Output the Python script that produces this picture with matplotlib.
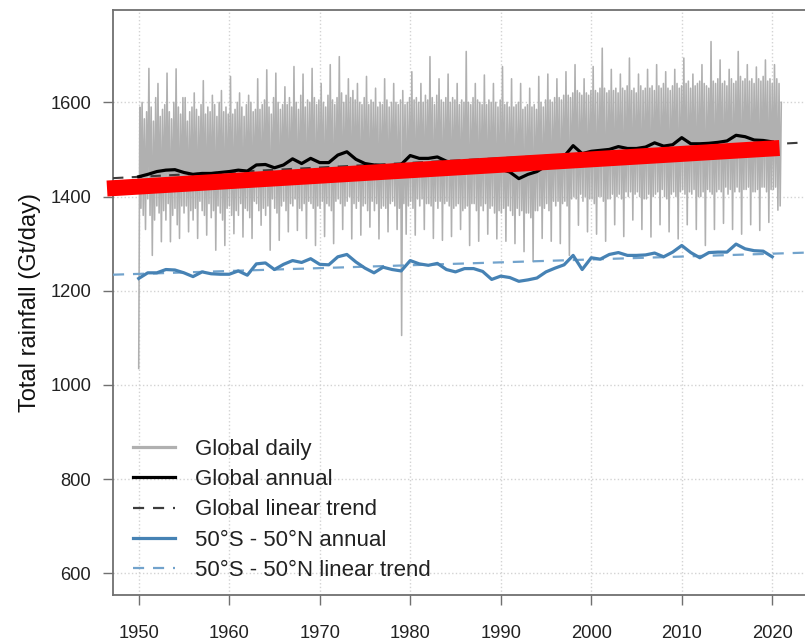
import numpy as np
import matplotlib
matplotlib.use('Agg')
import matplotlib.pyplot as plt
from matplotlib.lines import Line2D

plt.rcParams['font.family'] = ['Liberation Sans', 'DejaVu Sans']

# annual means, 1950-2020 (Gt/day)
years = list(range(1950, 2021))
global_annual = [1442, 1447, 1453, 1456, 1457, 1451, 1447, 1449, 1449, 1451,
                 1453, 1456, 1454, 1467, 1468, 1461, 1467, 1480, 1470, 1481,
                 1472, 1472, 1488, 1495, 1479, 1470, 1467, 1465, 1466, 1468,
                 1487, 1481, 1481, 1484, 1475, 1470, 1468, 1472, 1465, 1462,
                 1458, 1452, 1438, 1447, 1453, 1465, 1478, 1485, 1508, 1491,
                 1496, 1498, 1500, 1506, 1502, 1502, 1505, 1514, 1507, 1510,
                 1525, 1512, 1512, 1513, 1515, 1518, 1530, 1527, 1520, 1519,
                 1516]
band_annual = [1226, 1238, 1238, 1245, 1244, 1238, 1230, 1240, 1236, 1235,
               1235, 1242, 1233, 1257, 1259, 1245, 1256, 1264, 1260, 1268,
               1256, 1255, 1272, 1277, 1261, 1248, 1238, 1250, 1245, 1242,
               1264, 1257, 1254, 1258, 1245, 1240, 1247, 1247, 1241, 1224,
               1231, 1228, 1220, 1223, 1227, 1240, 1248, 1255, 1275, 1245,
               1270, 1267, 1277, 1281, 1275, 1275, 1276, 1280, 1272, 1282,
               1296, 1281, 1270, 1281, 1282, 1282, 1299, 1289, 1285, 1284,
               1272]

# linear trends, values at the two ends of the x range
trend_years = [1947.16, 2023.84]
global_trend = [1439, 1515]
band_trend = [1234, 1281]

# red highlight stroke
highlight_years = [1946.5, 2020.8]
highlight_vals = [1417, 1503]

# daily global rainfall, thinned to 8 readings per year (1950-2020)
daily_rows = [
    [1035, 1590, 1375, 1600, 1360, 1565, 1330, 1580],
    [1395, 1672, 1360, 1590, 1275, 1560, 1350, 1610],
    [1380, 1640, 1365, 1570, 1304, 1585, 1370, 1595],
    [1350, 1662, 1385, 1580, 1304, 1565, 1360, 1600],
    [1375, 1671, 1340, 1590, 1311, 1575, 1380, 1610],
    [1365, 1610, 1380, 1560, 1325, 1580, 1370, 1590],
    [1350, 1620, 1375, 1585, 1311, 1570, 1390, 1595],
    [1370, 1646, 1360, 1575, 1318, 1590, 1385, 1580],
    [1355, 1615, 1370, 1595, 1286, 1570, 1380, 1600],
    [1365, 1625, 1350, 1580, 1296, 1590, 1375, 1575],
    [1380, 1655, 1360, 1575, 1321, 1585, 1370, 1600],
    [1360, 1620, 1385, 1590, 1314, 1570, 1375, 1595],
    [1370, 1615, 1355, 1600, 1311, 1580, 1390, 1585],
    [1385, 1650, 1370, 1585, 1339, 1595, 1375, 1605],
    [1360, 1669, 1380, 1590, 1286, 1575, 1395, 1610],
    [1375, 1662, 1365, 1600, 1307, 1585, 1380, 1595],
    [1390, 1633, 1370, 1595, 1325, 1610, 1385, 1590],
    [1380, 1676, 1395, 1600, 1328, 1585, 1375, 1615],
    [1370, 1660, 1385, 1590, 1311, 1605, 1390, 1600],
    [1385, 1672, 1375, 1610, 1296, 1595, 1380, 1605],
    [1375, 1640, 1390, 1600, 1315, 1590, 1385, 1615],
    [1380, 1680, 1370, 1605, 1300, 1595, 1390, 1610],
    [1395, 1697, 1385, 1620, 1330, 1600, 1380, 1615],
    [1390, 1650, 1400, 1610, 1310, 1625, 1385, 1605],
    [1375, 1640, 1390, 1600, 1318, 1595, 1380, 1610],
    [1385, 1655, 1370, 1595, 1335, 1605, 1390, 1600],
    [1370, 1630, 1385, 1590, 1310, 1600, 1375, 1595],
    [1380, 1650, 1375, 1605, 1325, 1590, 1385, 1600],
    [1390, 1640, 1380, 1600, 1330, 1595, 1375, 1605],
    [1105, 1625, 1385, 1595, 1320, 1600, 1380, 1610],
    [1390, 1665, 1375, 1605, 1318, 1610, 1395, 1600],
    [1380, 1640, 1395, 1600, 1330, 1615, 1385, 1605],
    [1385, 1697, 1380, 1610, 1311, 1595, 1390, 1615],
    [1375, 1650, 1390, 1605, 1307, 1600, 1385, 1610],
    [1390, 1660, 1380, 1600, 1315, 1610, 1375, 1605],
    [1380, 1640, 1385, 1595, 1330, 1605, 1370, 1600],
    [1375, 1708, 1380, 1600, 1296, 1595, 1385, 1610],
    [1385, 1640, 1370, 1605, 1305, 1600, 1380, 1595],
    [1370, 1658, 1385, 1595, 1320, 1605, 1375, 1600],
    [1380, 1640, 1365, 1600, 1310, 1590, 1370, 1605],
    [1365, 1676, 1375, 1595, 1305, 1600, 1380, 1590],
    [1370, 1650, 1360, 1590, 1300, 1595, 1375, 1600],
    [1360, 1640, 1370, 1585, 1283, 1590, 1365, 1595],
    [1365, 1630, 1355, 1590, 1262, 1595, 1370, 1585],
    [1370, 1655, 1380, 1600, 1311, 1590, 1375, 1605],
    [1385, 1660, 1370, 1605, 1305, 1600, 1390, 1610],
    [1380, 1650, 1390, 1610, 1300, 1605, 1385, 1615],
    [1390, 1665, 1380, 1615, 1275, 1610, 1395, 1620],
    [1400, 1680, 1395, 1625, 1339, 1620, 1405, 1615],
    [1390, 1650, 1400, 1620, 1325, 1615, 1395, 1625],
    [1395, 1676, 1385, 1625, 1320, 1620, 1400, 1630],
    [1400, 1715, 1390, 1630, 1305, 1620, 1395, 1625],
    [1395, 1670, 1405, 1625, 1340, 1630, 1400, 1620],
    [1405, 1660, 1395, 1630, 1315, 1625, 1410, 1635],
    [1400, 1694, 1410, 1625, 1350, 1630, 1405, 1620],
    [1410, 1660, 1400, 1635, 1330, 1625, 1395, 1630],
    [1395, 1670, 1405, 1630, 1314, 1635, 1400, 1625],
    [1405, 1680, 1410, 1635, 1340, 1630, 1415, 1640],
    [1400, 1665, 1395, 1630, 1325, 1625, 1405, 1635],
    [1410, 1670, 1400, 1640, 1310, 1630, 1410, 1635],
    [1415, 1694, 1405, 1640, 1340, 1645, 1410, 1630],
    [1405, 1660, 1415, 1635, 1330, 1640, 1400, 1645],
    [1400, 1680, 1410, 1640, 1296, 1635, 1415, 1630],
    [1410, 1729, 1405, 1645, 1330, 1640, 1410, 1650],
    [1415, 1690, 1410, 1640, 1343, 1645, 1420, 1635],
    [1405, 1670, 1415, 1650, 1330, 1640, 1410, 1645],
    [1420, 1708, 1410, 1655, 1320, 1645, 1415, 1650],
    [1415, 1680, 1420, 1645, 1340, 1650, 1410, 1640],
    [1410, 1675, 1415, 1650, 1328, 1645, 1420, 1655],
    [1420, 1690, 1410, 1645, 1345, 1650, 1415, 1640],
    [1415, 1680, 1420, 1650, 1371, 1640, 1380, 1600],
]

y_ticks = [600, 800, 1000, 1200, 1400, 1600]
x_ticks = [1950, 1960, 1970, 1980, 1990, 2000, 2010, 2020]

daily_vals = np.concatenate(daily_rows)
daily_t = np.linspace(1950, 2021, len(daily_vals))

fig = plt.figure(figsize=(8.05, 6.44), dpi=100)
ax = fig.add_axes([113 / 805, 49 / 644, 694 / 805, 585 / 644])

c_daily = '#b0b0b0'
c_trend = '#3c3c3c'
c_band = '#4682b4'
c_band_trend = '#72a3cc'

ax.plot(daily_t, daily_vals, color=c_daily, lw=1.15, zorder=2)
ax.plot(trend_years, global_trend, color=c_trend, lw=1.5, dashes=(5, 4), zorder=3)
ax.plot(trend_years, band_trend, color=c_band_trend, lw=1.6, dashes=(5, 4), zorder=3)
ax.plot(years, global_annual, color='black', lw=2.3, zorder=4)
ax.plot(years, band_annual, color=c_band, lw=2.3, zorder=4)
ax.plot(highlight_years, highlight_vals, color='red', lw=11.5,
        solid_capstyle='butt', clip_on=False, zorder=6)

ax.set_xlim(1947.16, 2023.84)
ax.set_ylim(554, 1796)
ax.set_xticks(x_ticks)
ax.set_yticks(y_ticks)
ax.grid(True, color='#d3d3d3', linestyle=':', lw=1)
ax.set_axisbelow(True)

for s in ax.spines.values():
    s.set_color('#707070')
    s.set_linewidth(1.3)
ax.tick_params(direction='out', length=7.2, width=1, color='#707070',
               labelsize=13.2, labelcolor='#222222')
ax.tick_params(axis='x', pad=14.5)
ax.tick_params(axis='y', pad=8.6)

ax.set_ylabel('Total rainfall (Gt/day)', fontsize=17, color='#111111')
ax.yaxis.set_label_coords(-0.104, 0.5)

handles = [
    Line2D([], [], color=c_daily, lw=2.3),
    Line2D([], [], color='black', lw=2.3),
    Line2D([], [], color=c_trend, lw=1.6, dashes=(5, 4)),
    Line2D([], [], color=c_band, lw=2.3),
    Line2D([], [], color=c_band_trend, lw=1.6, dashes=(5, 4)),
]
labels = ['Global daily', 'Global annual', 'Global linear trend',
          '50°S - 50°N annual', '50°S - 50°N linear trend']
ax.legend(handles, labels, loc='upper left', bbox_to_anchor=(0.029, 0.267),
          frameon=False, fontsize=16, handlelength=1.9, handletextpad=0.9,
          labelspacing=0.42, borderpad=0, borderaxespad=0, labelcolor='#222222')

fig.savefig('out.png', dpi=100)
